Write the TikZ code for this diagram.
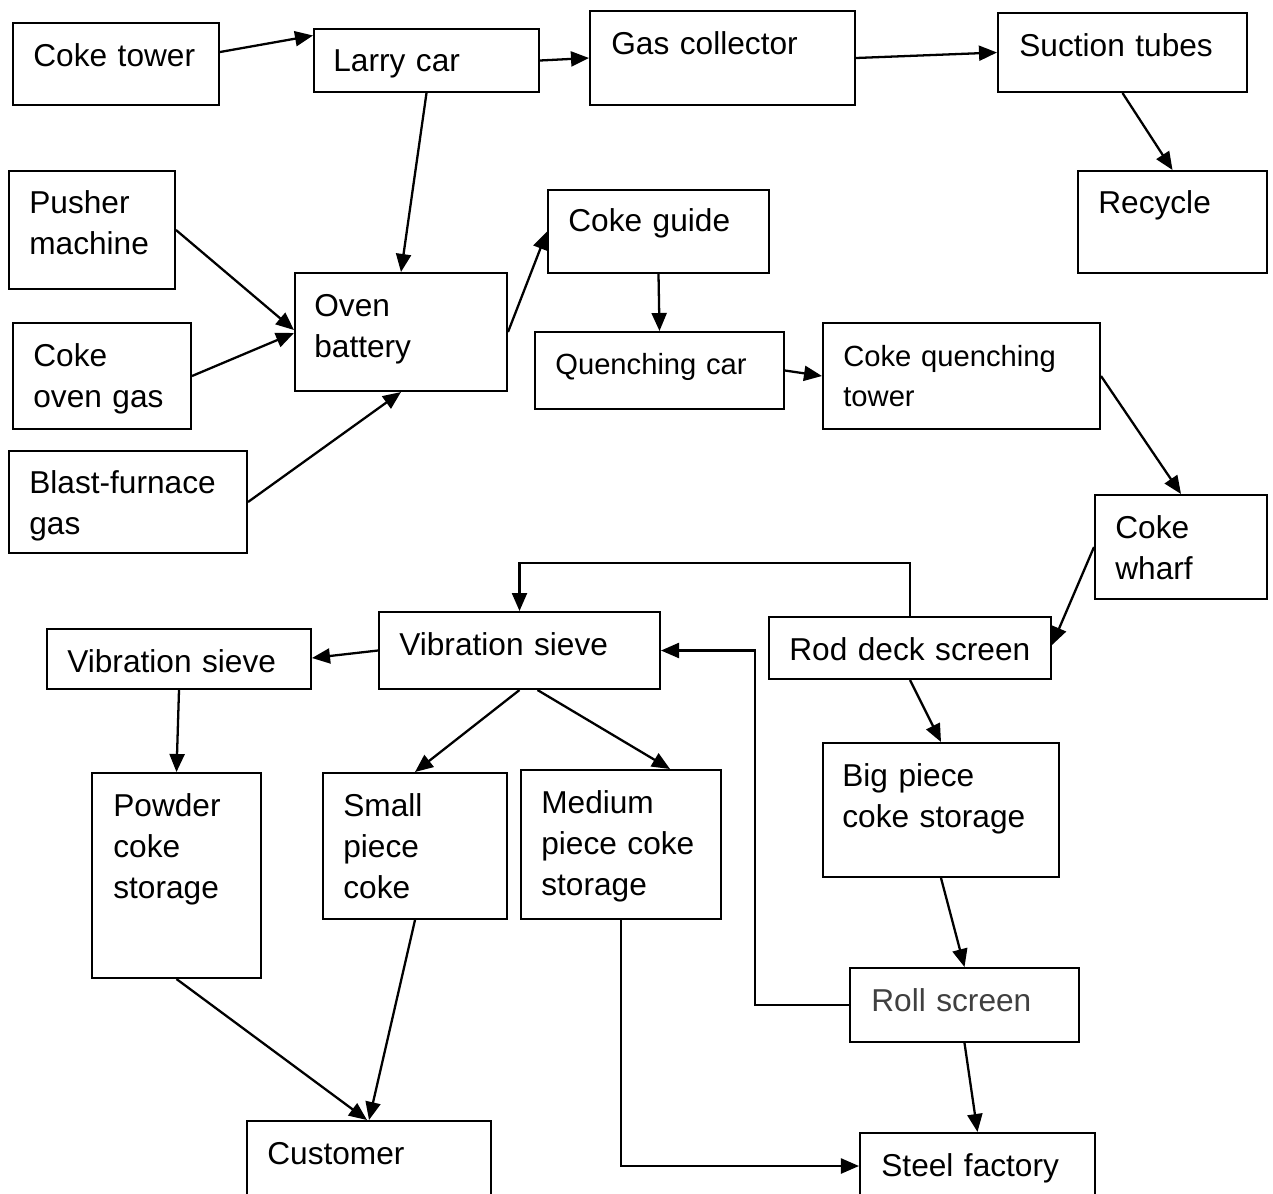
\documentclass[tikz,border=0pt]{standalone}
\usepackage{fontspec}
\setmainfont{Liberation Sans}
\usetikzlibrary{arrows.meta, fit, calc}

\begin{document}
\begin{tikzpicture}[
    x=0.2mm, y=-0.2mm,
    box/.style={draw, line width=1.15pt, inner sep=0pt},
    lbl/.style={anchor=base west, inner sep=0pt, text width=60mm, align=left,
                font=\fontsize{18}{23.5}\selectfont},
    lblsmall/.style={lbl, font=\fontsize{16.6}{23.2}\selectfont},
    arr/.style={line width=1.3pt, -{Triangle[length=3.6mm, width=3mm]}}
  ]
  \useasboundingbox (0,0) rectangle (1273,1193);
  \clip (0,0) rectangle (1273,1193);

  % Boxes
  \node[box, fit={(13,23) (219,105)}] (coketower) {};
  \node[box, fit={(314,29) (539,92)}] (larrycar) {};
  \node[box, fit={(590,11) (855,105)}] (gascoll) {};
  \node[box, fit={(998,13) (1247,92)}] (suction) {};
  \node[box, fit={(1078,171) (1267,273)}] (recycle) {};
  \node[box, fit={(9,171) (175,289)}] (pusher) {};
  \node[box, fit={(295,273) (507,391)}] (oven) {};
  \node[box, fit={(548,190) (769,273)}] (guide) {};
  \node[box, fit={(13,323) (191,429)}] (ovengas) {};
  \node[box, fit={(535,332) (784,409)}] (quenchcar) {};
  \node[box, fit={(823,323) (1100,429)}] (quenchtower) {};
  \node[box, fit={(9,451) (247,553)}] (blastgas) {};
  \node[box, fit={(1095,495) (1267,599)}] (wharf) {};
  \node[box, fit={(47,629) (311,689)}] (sieveL) {};
  \node[box, fit={(379,612) (660,689)}] (sieveC) {};
  \node[box, fit={(769,617) (1051,679)}] (roddeck) {};
  \node[box, fit={(92,773) (261,978)}] (powder) {};
  \node[box, fit={(323,773) (507,919)}] (small) {};
  \node[box, fit={(521,770) (721,919)}] (medium) {};
  \node[box, fit={(823,743) (1059,877)}] (bigpiece) {};
  \node[box, fit={(850,968) (1079,1042)}] (rollscreen) {};
  \node[box, fit={(247,1121) (491,1205)}] (customer) {};
  \node[box, fit={(860,1133) (1095,1199)}] (steel) {};

  % Texts in the boxes
  \node[lbl] (coketower-t) at (33,66) {Coke tower};
  \node[lbl] (larrycar-t) at (333,71) {Larry car};
  \node[lbl] (gascoll-t) at (611,54) {Gas collector};
  \node[lbl] (suction-t) at (1019,56) {Suction tubes};
  \node[lbl] (recycle-t) at (1098,213) {Recycle};
  \node[lbl] (guide-t) at (568,231) {Coke guide};
  \node[lbl] (pusher-t) at (29,213) {Pusher\\machine};
  \node[lbl] (oven-t) at (314,316) {Oven\\battery};
  \node[lbl] (ovengas-t) at (33,366) {Coke\\oven gas};
  \node[lblsmall] (quenchcar-t) at (555,374) {Quenching car};
  \node[lblsmall] (quenchtower-t) at (843,366) {Coke quenching\\tower};
  \node[lbl] (blastgas-t) at (29,493) {Blast-furnace\\gas};
  \node[lbl] (wharf-t) at (1115,538) {Coke\\wharf};
  \node[lbl] (sieveL-t) at (67,672) {Vibration sieve};
  \node[lbl] (sieveC-t) at (399,655) {Vibration sieve};
  \node[lbl] (roddeck-t) at (789,660) {Rod deck screen};
  \node[lbl] (powder-t) at (113,816) {Powder\\coke\\storage};
  \node[lbl] (small-t) at (343,816) {Small\\piece\\coke};
  \node[lbl] (medium-t) at (541,813) {Medium\\piece coke\\storage};
  \node[lbl] (bigpiece-t) at (842,786) {Big piece\\coke storage};
  \node[lbl, text=black!75] (rollscreen-t) at (871,1011) {Roll screen};
  \node[lbl] (customer-t) at (267,1164) {Customer};
  \node[lbl] (steel-t) at (881,1176) {Steel factory};

  % Arrows
  \draw[arr] ($(coketower.east)+(0,-12)$) -- ($(larrycar.west)+(0,-25)$);
  \draw[arr] (larrycar.east) -- (gascoll.west);
  \draw[arr] (gascoll.east) -- (suction.west);
  \draw[arr] (suction.south) -- (recycle.north);
  \draw[arr] (larrycar.south) -- (oven.north);
  \draw[arr] (pusher.east) -- ($(oven.west)+(0,-2)$);
  \draw[arr] (ovengas.east) -- ($(oven.west)+(0,1)$);
  \draw[arr] (blastgas.east) -- (oven.south);
  \draw[arr] (oven.east) -- (guide.west);
  \draw[arr] (guide.south) -- (quenchcar.north);
  \draw[arr] (quenchcar.east) -- (quenchtower.west);
  \draw[arr] (quenchtower.east) -- (wharf.north);
  \draw[arr] (wharf.west) -- ($(roddeck.east)+(0,-3)$);
  \draw[arr] (roddeck.north) -- ++(0,-53) -| (sieveC.north);
  \draw[arr] (sieveC.west) -- ($(sieveL.east)+(0,-1)$);
  \draw[arr] (rollscreen.west) -- ++(-94,0) |- (sieveC.east);
  \draw[arr] (roddeck.south) -- (bigpiece.north);
  \draw[arr] (bigpiece.south) -- (rollscreen.north);
  \draw[arr] (rollscreen.south) -- (steel.north);
  \draw[arr] (sieveC.south) -- (small.north);
  \draw[arr] ($(sieveC.south)+(18,0)$) -- ($(medium.north)+(49,0)$);
  \draw[arr] (sieveL.south) -- (powder.north);
  \draw[arr] (powder.south) -- ($(customer.north)+(-2,0)$);
  \draw[arr] (small.south) -- (customer.north);
  \draw[arr] (medium.south) |- (steel.west);
\end{tikzpicture}
\end{document}
